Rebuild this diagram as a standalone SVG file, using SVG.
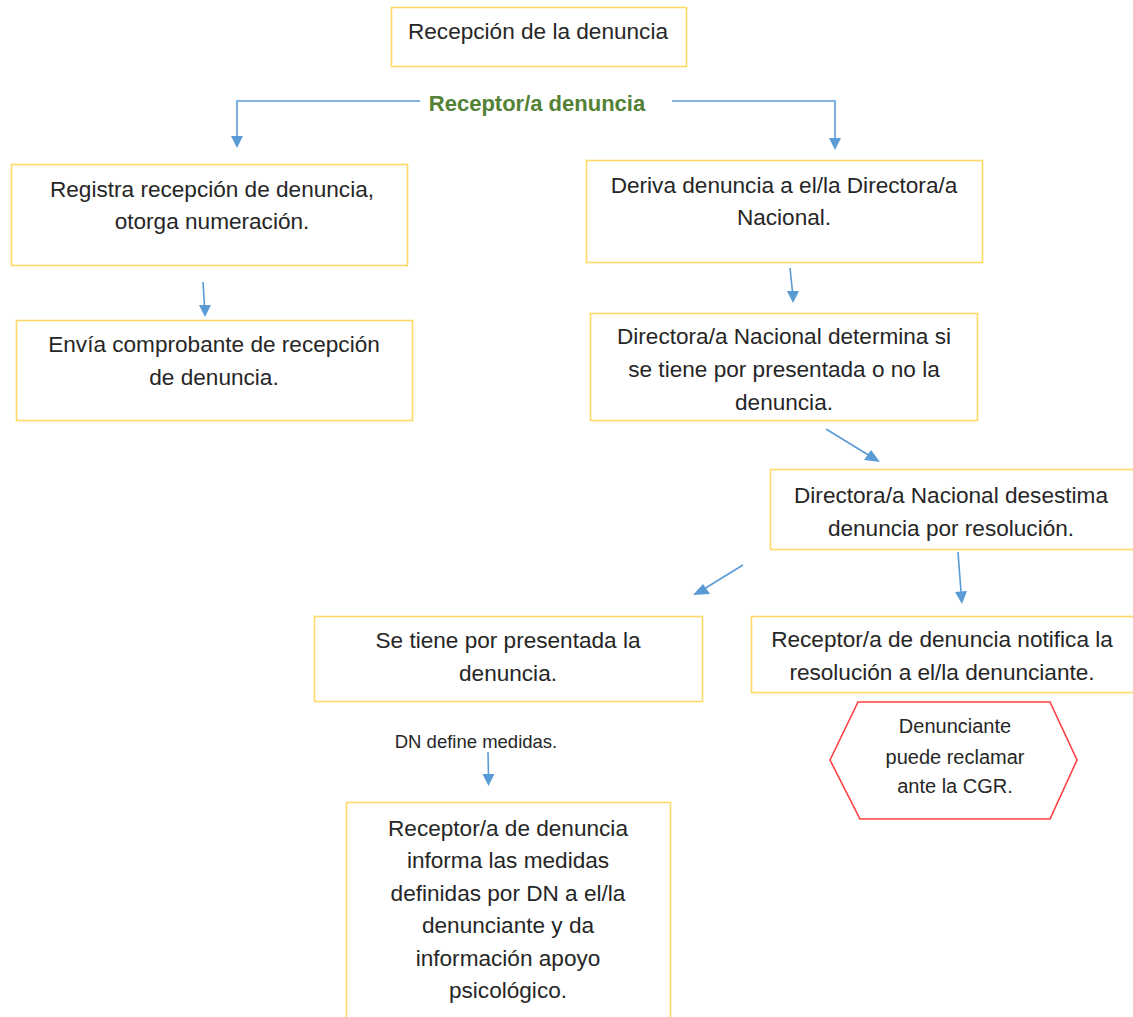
<svg xmlns="http://www.w3.org/2000/svg" width="1133" height="1017" viewBox="0 0 1133 1017">
<style>
.box{fill:#fff;stroke:#FFD966;stroke-width:1.6}
.hex{fill:#fff;stroke:#FF4040;stroke-width:1.6}
.t{font-family:"Liberation Sans",Arial,sans-serif;font-size:22.6px;fill:#262626;text-anchor:middle}
.s{font-size:20px}
.xs{font-size:18.5px}
.g{font-weight:bold;fill:#538135;font-size:22px}
.c{fill:none;stroke:#5B9BD5;stroke-width:1.6}
.h{fill:#5B9BD5}
</style>
<rect width="1133" height="1017" fill="#fff"/>
<g id="connectors">
<path class="c" d="M420,101 H237 V137"/>
<polygon class="h" points="231,136 243,136 237,148"/>
<path class="c" d="M672,101 H835 V139"/>
<polygon class="h" points="829,138 841,138 835,150"/>
<line class="c" x1="203" y1="282" x2="204.5" y2="306"/>
<polygon class="h" points="199,305 211,305 205,317"/>
<line class="c" x1="790" y1="268" x2="792.5" y2="292"/>
<polygon class="h" points="787,291 799,291 793,303"/>
<line class="c" x1="826" y1="429" x2="870" y2="456"/>
<polygon class="h" points="864,460 871,450 880,462"/>
<line class="c" x1="743" y1="565" x2="704" y2="589"/>
<polygon class="h" points="693,595 703,584 710,594"/>
<line class="c" x1="958" y1="552" x2="961" y2="592"/>
<polygon class="h" points="955,592 967,591 962,604"/>
<line class="c" x1="488" y1="752" x2="488.5" y2="775"/>
<polygon class="h" points="482.5,774 494.5,774 488.5,786"/>
</g>
<g id="n1"><rect class="box" x="391.5" y="7.5" width="295" height="59"/><text class="t" x="538" y="39">Recepción de la denuncia</text></g>
<g id="lbl"><text class="t g" x="537" y="111">Receptor/a denuncia</text></g>
<g id="n2"><rect class="box" x="11.5" y="164.5" width="396" height="101"/><text class="t" x="212" y="197">Registra recepción de denuncia,</text><text class="t" x="212" y="229">otorga numeración.</text></g>
<g id="n3"><rect class="box" x="16.5" y="320.5" width="396" height="100"/><text class="t" x="214" y="352">Envía comprobante de recepción</text><text class="t" x="214" y="385">de denuncia.</text></g>
<g id="n4"><rect class="box" x="586.5" y="160.5" width="396" height="102"/><text class="t" x="784" y="193">Deriva denuncia a el/la Directora/a</text><text class="t" x="784" y="225">Nacional.</text></g>
<g id="n5"><rect class="box" x="590.5" y="313.5" width="387" height="107"/><text class="t" x="784" y="344">Directora/a Nacional determina si</text><text class="t" x="784" y="377">se tiene por presentada o no la</text><text class="t" x="784" y="410">denuncia.</text></g>
<g id="n6"><rect class="box" x="770.5" y="469.5" width="370" height="80"/><text class="t" x="951" y="503">Directora/a Nacional desestima</text><text class="t" x="951" y="536">denuncia por resolución.</text></g>
<g id="n7"><rect class="box" x="314.5" y="616.5" width="388" height="85"/><text class="t" x="508" y="648">Se tiene por presentada la</text><text class="t" x="508" y="681">denuncia.</text></g>
<g id="n8"><rect class="box" x="751.5" y="616.5" width="390" height="76"/><text class="t" x="942" y="647">Receptor/a de denuncia notifica la</text><text class="t" x="942" y="680">resolución a el/la denunciante.</text></g>
<g id="n9"><polygon class="hex" points="830,760 858,702 1050,702 1077,760 1050,819 860,819"/><text class="t s" x="955" y="733">Denunciante</text><text class="t s" x="955" y="764">puede reclamar</text><text class="t s" x="955" y="793">ante la CGR.</text></g>
<g id="lbl2"><text class="t xs" x="476" y="748">DN define medidas.</text></g>
<g id="n10"><rect class="box" x="346.5" y="802.5" width="324" height="230"/><text class="t" x="508" y="836">Receptor/a de denuncia</text><text class="t" x="508" y="868">informa las medidas</text><text class="t" x="508" y="901">definidas por DN a el/la</text><text class="t" x="508" y="933">denunciante y da</text><text class="t" x="508" y="966">información apoyo</text><text class="t" x="508" y="998">psicológico.</text></g>
</svg>
